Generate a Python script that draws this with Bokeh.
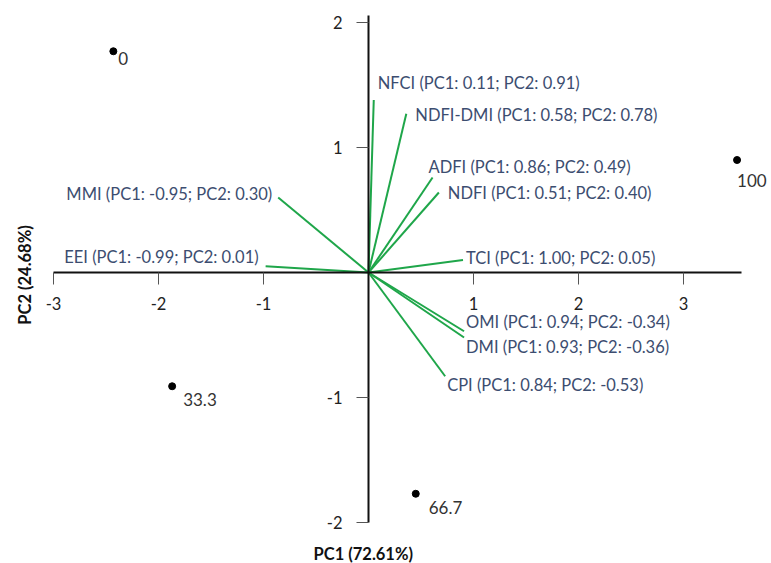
from bokeh.plotting import figure
from bokeh.models import ColumnDataSource, FixedTicker, Label, Range1d
from bokeh.core.properties import value
from bokeh.embed import file_html
from bokeh.resources import INLINE
import math

# ---- data ----
score_labels = ["0", "33.3", "66.7", "100"]
score_pc1 = [-2.43, -1.87, 0.45, 3.51]
score_pc2 = [1.77, -0.91, -1.77, 0.90]

var_names = ["NFCI", "NDFI-DMI", "ADFI", "NDFI", "TCI", "MMI", "EEI", "OMI", "DMI", "CPI"]
var_pc1_text = [0.11, 0.58, 0.86, 0.51, 1.00, -0.95, -0.99, 0.94, 0.93, 0.84]
var_pc2_text = [0.91, 0.78, 0.49, 0.40, 0.05, 0.30, 0.01, -0.34, -0.36, -0.53]
vec_end_x = [0.05, 0.36, 0.61, 0.67, 0.90, -0.86, -0.98, 0.91, 0.91, 0.73]
vec_end_y = [1.38, 1.27, 0.76, 0.64, 0.10, 0.60, 0.05, -0.47, -0.52, -0.83]

x_ticks = [-3, -2, -1, 1, 2, 3]
y_ticks = [-2, -1, 1, 2]

# ---- layout (pixel offsets for labels) ----
var_dx = [4, 9, -4, 9, 3, -6, -7, 2, 2, 2]
var_dy = [-17, 1, -11, 0, -2, -4, -9, -9, 9, 9]
var_align = ["left"] * 5 + ["right"] * 2 + ["left"] * 3
score_dx = [5, 11, 13, 0]
score_dy = [7, 13, 14, 20]

FONT = "Lato"
GREEN = "#1fa64a"
NAVY = "#3c4d70"

p = figure(width=771, height=563,
           x_range=Range1d(-3.5048, 3.8381), y_range=Range1d(-2.328, 2.176),
           output_backend="svg", toolbar_location=None, min_border=0)
p.grid.visible = False
p.outline_line_color = None
p.background_fill_color = "white"

for ax, ticks, bnds in ((p.xaxis, x_ticks, (-3, 3.55)), (p.yaxis, y_ticks, (-2, 2.06))):
    ax.fixed_location = 0
    ax.ticker = FixedTicker(ticks=ticks)
    ax.major_label_overrides = {t: str(t) for t in ticks}
    ax.bounds = bnds
    ax.minor_tick_line_color = None
    ax.major_tick_in = 0
    ax.major_tick_out = 12
    ax.major_tick_line_color = "#555555"
    ax.major_tick_line_width = 1
    ax.axis_line_color = "#111111"
    ax.axis_line_width = 2
    ax.major_label_text_font = FONT
    ax.major_label_text_font_size = "16.5px"
    ax.major_label_text_color = "#222222"
p.xaxis.major_label_standoff = 12
p.yaxis.major_label_standoff = 14
p.yaxis.major_label_orientation = "horizontal"

vsrc = ColumnDataSource(dict(
    x0=[0] * len(var_names), y0=[0] * len(var_names),
    x1=vec_end_x, y1=vec_end_y,
    txt=[f"{n} (PC1: {a:.2f}; PC2: {b:.2f})" for n, a, b in zip(var_names, var_pc1_text, var_pc2_text)],
    dx=var_dx, dy=var_dy, align=var_align,
))
p.segment("x0", "y0", "x1", "y1", source=vsrc, line_color=GREEN, line_width=2)
p.text("x1", "y1", text="txt", source=vsrc, x_offset="dx", y_offset="dy",
       text_align="align", text_baseline="middle", text_font=value(FONT),
       text_font_size="16.5px", text_color=NAVY)

ssrc = ColumnDataSource(dict(x=score_pc1, y=score_pc2, lab=score_labels, dx=score_dx, dy=score_dy))
p.scatter("x", "y", source=ssrc, size=7, color="black")
p.text("x", "y", text="lab", source=ssrc, x_offset="dx", y_offset="dy",
       text_align="left", text_baseline="middle", text_font=value(FONT),
       text_font_size="17px", text_color="#333333")

p.add_layout(Label(x=-0.05, y=-2.25, text="PC1 (72.61%)", text_align="center",
                   text_baseline="middle", text_font=FONT, text_font_style="bold",
                   text_font_size="16.5px", text_color="#111111"))
p.add_layout(Label(x=-3.267, y=-0.02, text="PC2 (24.68%)", text_align="center",
                   text_baseline="middle", angle=math.pi / 2, text_font=FONT,
                   text_font_style="bold", text_font_size="16.5px", text_color="#111111"))

open("out.html", "w").write(file_html(p, INLINE))
